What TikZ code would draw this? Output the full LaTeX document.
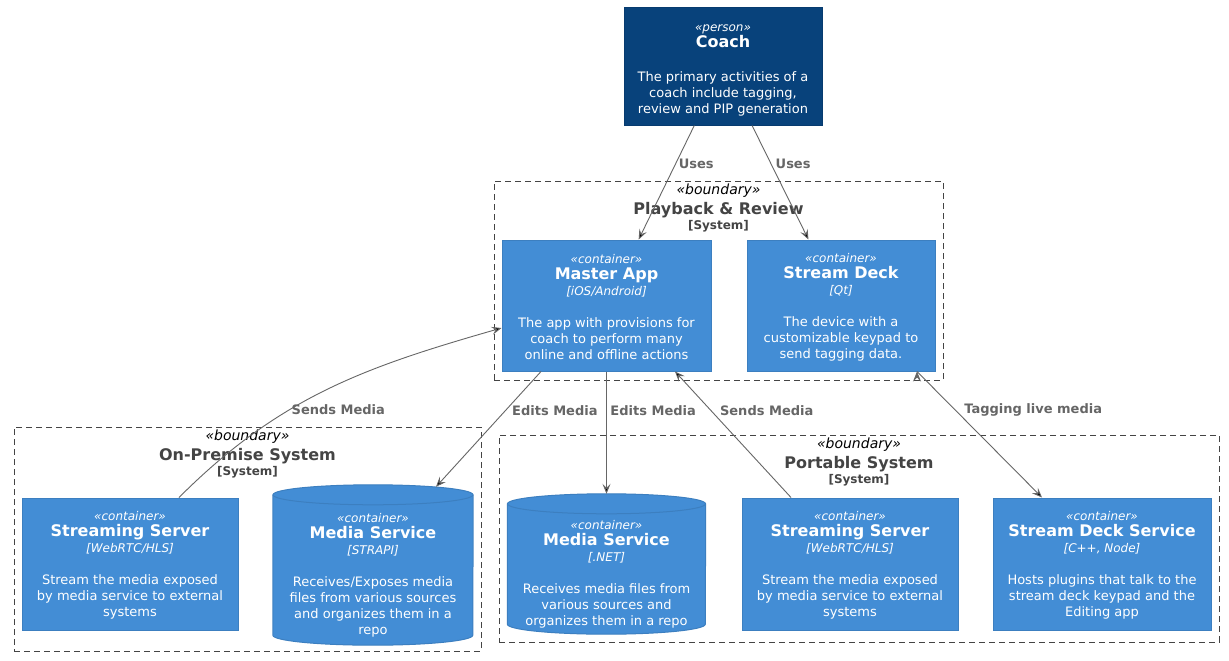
\documentclass[tikz,border=0pt]{standalone}
\usepackage{fontspec}
\setmainfont{DejaVu Sans}
\usetikzlibrary{arrows.meta,positioning}
\definecolor{personblue}{HTML}{08427B}
\definecolor{personedge}{HTML}{073B6F}
\definecolor{contblue}{HTML}{438DD5}
\definecolor{contedge}{HTML}{3C7FC0}
\definecolor{bndgray}{HTML}{444444}
\definecolor{relgray}{HTML}{666666}

\newcommand{\stereo}[2][12pt]{\rule{0pt}{#1}{\fontsize{12}{16}\selectfont\itshape «#2»}}
\newcommand{\elname}[1]{{\fontsize{16}{16}\selectfont\bfseries #1}}
\newcommand{\tech}[1]{{\fontsize{12}{16}\selectfont\itshape [#1]}}
\newcommand{\btext}[1]{{\fontsize{14}{15}\selectfont\itshape\color{black}«boundary»}\\[4pt]
    {\fontsize{16}{15}\selectfont\bfseries #1}\\{\bfseries [System]}}
\newcommand{\dbshape}[2]{%
    \fill[contblue] ([yshift=-10pt]#1.north west) rectangle ([yshift=10pt]#1.south east);
    \fill[contblue] ([yshift=10pt]#1.south) ellipse[x radius=#2, y radius=10];
    \draw[dbedge] ([yshift=-10pt]#1.north west) -- ([yshift=10pt]#1.south west)
        arc[start angle=180, end angle=360, x radius=#2, y radius=10] -- ([yshift=-10pt]#1.north east);
    \path[dbfill] ([yshift=-10pt]#1.north) ellipse[x radius=#2, y radius=10];}

\tikzset{
    person/.style =    {rectangle,
                       fill=personblue,
                       draw=personedge,
                       text=white,
                       line width=1pt,
                       align=center,
                       inner sep=0pt,
                       font=\fontsize{13}{16}\selectfont},
    container/.style = {rectangle,
                       fill=contblue,
                       draw=contedge,
                       text=white,
                       line width=1pt,
                       align=center,
                       inner sep=0pt,
                       font=\fontsize{13}{16}\selectfont},
    dbbody/.style =    {rectangle,
                       inner sep=0pt},
    dbfill/.style =    {fill=contblue,
                       draw=contedge,
                       line width=1pt},
    dbedge/.style =    {draw=contedge,
                       line width=1pt},
    dbtext/.style =    {text=white,
                       align=center,
                       inner sep=0pt,
                       font=\fontsize{13}{16}\selectfont},
    boundary/.style =  {rectangle,
                       draw=bndgray,
                       dash pattern=on 6pt off 4pt,
                       line width=1pt,
                       inner sep=0pt},
    btitle/.style =    {align=center,
                       text=bndgray,
                       inner sep=0pt,
                       font=\fontsize{12}{15}\selectfont},
    rel/.style =       {draw=relgray,
                       line width=0.9pt,
                       -{Stealth[length=10pt,width=8pt,inset=4pt]}},
    lbl/.style =       {text=relgray,
                       anchor=west,
                       inner sep=0pt,
                       font=\fontsize{13}{16}\selectfont\bfseries}
}

\begin{document}
\begin{tikzpicture}[x=1pt,y=1pt]
    \path[fill=white,use as bounding box] (0,0) rectangle (1229,-661);

    % boundaries
    \node[boundary, minimum width=449, minimum height=199] (pb) at (718.5,-280.5) {};
    \node[boundary, minimum width=467, minimum height=224] (op) at (247.5,-539) {};
    \node[boundary, minimum width=720, minimum height=207] (ps) at (859,-538.5) {};
    \node[btitle] (pbt) [below=3pt of pb.north] {\btext{Playback \& Review}};
    \node[btitle] (opt) [below=3pt of op.north] {\btext{On-Premise System}};
    \node[btitle] (pst) [below=3pt of ps.north] {\btext{Portable System}};

    % person
    \node[person, minimum width=198, minimum height=117] (coach) at (723,-66.5)
        {\stereo[14pt]{person}\\\elname{Coach}\\[18pt]The primary activities of a\\coach include tagging,\\review and PIP generation};

    % containers
    \node[container, minimum width=209, minimum height=131] (ma) at (606.5,-305.5)
        {\stereo{container}\\\elname{Master App}\\\tech{iOS/Android}\\[16pt]The app with provisions for\\coach to perform many\\online and offline actions};
    \node[container, minimum width=188, minimum height=131] (sd) at (841,-305.5)
        {\stereo{container}\\\elname{Stream Deck}\\\tech{Qt}\\[16pt]The device with a\\customizable keypad to\\send tagging data.};
    \node[container, minimum width=216, minimum height=132] (ss1) at (130,-564)
        {\stereo{container}\\\elname{Streaming Server}\\\tech{WebRTC/HLS}\\[16pt]Stream the media exposed\\by media service to external\\systems};
    \node[container, minimum width=216, minimum height=132] (ss2) at (850,-564)
        {\stereo{container}\\\elname{Streaming Server}\\\tech{WebRTC/HLS}\\[16pt]Stream the media exposed\\by media service to external\\systems};
    \node[container, minimum width=218, minimum height=132] (sds) at (1102,-564)
        {\stereo{container}\\\elname{Stream Deck Service}\\\tech{C++, Node}\\[16pt]Hosts plugins that talk to the\\stream deck keypad and the\\Editing app};

    % databases
    \node[dbbody, minimum width=200, minimum height=160] (ms1) at (373,-565) {};
    \dbshape{ms1}{100}
    \node[dbtext] (ms1t) at ([yshift=-9pt]ms1.center)
        {\stereo{container}\\\elname{Media Service}\\\tech{STRAPI}\\[16pt]Receives/Exposes media\\files from various sources\\and organizes them in a\\repo};
    \node[dbbody, minimum width=198, minimum height=140] (ms2) at (606.5,-564) {};
    \dbshape{ms2}{99}
    \node[dbtext] (ms2t) at ([yshift=-9pt]ms2.center)
        {\stereo{container}\\\elname{Media Service}\\\tech{.NET}\\[16pt]Receives media files from\\various sources and\\organizes them in a repo};

    % relations
    \path[rel] (coach) edge node[lbl, pos=0.34, xshift=3pt] {Uses} (ma)
               (coach) edge node[lbl, pos=0.34, xshift=4pt] {Uses} (sd)
               ([xshift=49pt]ss1.north) edge[out=45, in=196] node[lbl, pos=0.375, xshift=2pt] {Sends Media} ([yshift=-22.5pt]ma.west)
               ([xshift=-65.5pt]ma.south) edge node[lbl, pos=0.336, xshift=6pt] {Edits Media} ([xshift=63pt,yshift=-2pt]ms1.north)
               (ma) edge node[lbl, pos=0.317, xshift=3.5pt] {Edits Media} (ms2)
               ([xshift=-59pt]ss2.north) edge node[lbl, pos=0.693, xshift=9pt] {Sends Media} ([xshift=68.5pt]ma.south)
               ([xshift=76pt]sd.south) edge node[lbl, pos=0.307, xshift=8.5pt] {Tagging live media} ([xshift=-60pt]sds.north);
\end{tikzpicture}
\end{document}
